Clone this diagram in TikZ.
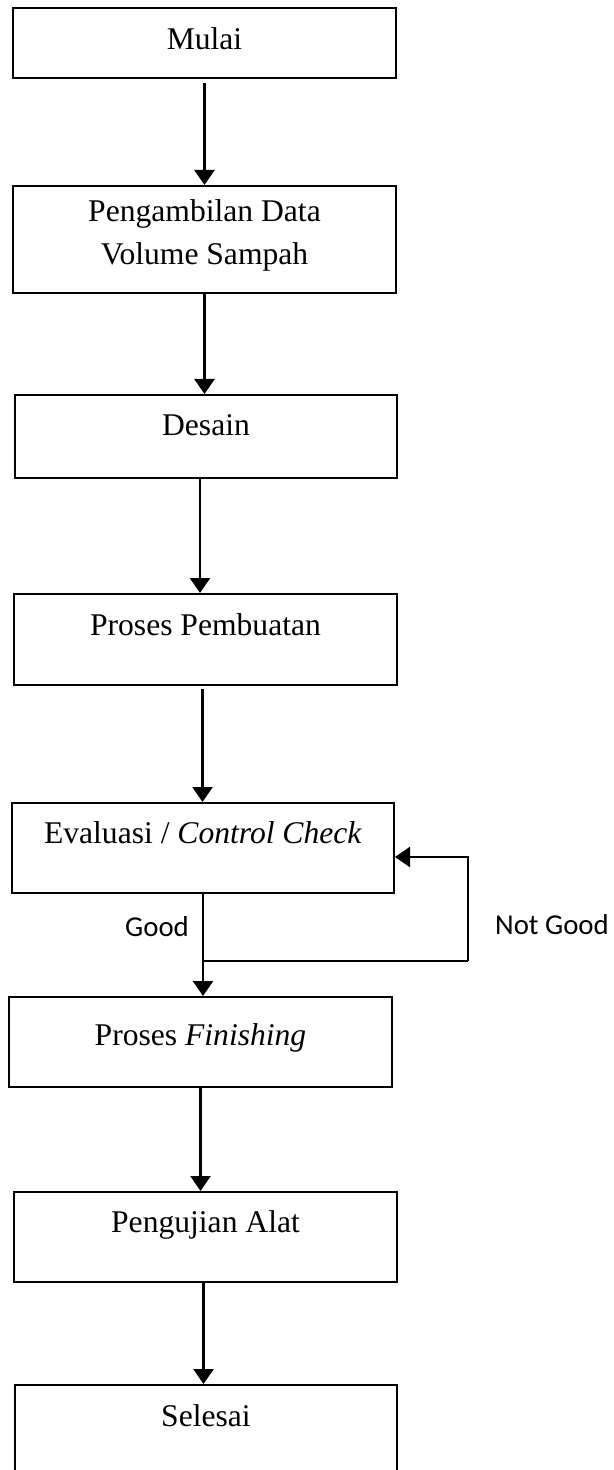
\documentclass[tikz,border=0pt]{standalone}
\usepackage{fontspec}
\setmainfont{Liberation Serif}
\newfontfamily\calibrifont{Carlito}
\usetikzlibrary{arrows.meta}
\begin{document}
\begin{tikzpicture}[x=0.5pt,y=-0.5pt,
  box/.style={draw=black,line width=1pt,inner sep=0pt,minimum width=191.5pt},
  txt/.style={font=\fontsize{15.8}{21.5}\selectfont,anchor=base,align=center,inner sep=0pt},
  lbl/.style={font=\calibrifont\fontsize{14.4}{17}\selectfont,anchor=base,inner sep=0pt},
  arr/.style={line width=1.25pt,-{Triangle[length=7.5pt,width=10pt]}},
  ln/.style={line width=1.25pt}]
\useasboundingbox (0,0) rectangle (614,1470);
% boxes
\node[box,minimum height=35pt] (b1) at (204.5,43) {};
\node[box,minimum height=53.5pt] (b2) at (204.5,239.5) {};
\node[box,minimum width=191pt,minimum height=41.5pt] (b3) at (206,436.5) {};
\node[box,minimum height=45.5pt] (b4) at (205.5,639.5) {};
\node[box,minimum width=191pt,minimum height=45pt] (b5) at (203,848) {};
\node[box,minimum height=45pt] (b6) at (200.5,1042) {};
\node[box,minimum height=45pt] (b7) at (205.5,1237) {};
\node[box,minimum width=191pt,minimum height=47.5pt] (b8) at (206,1432.5) {};
% texts
\node[txt] (t1) at (204.5,50) {Mulai};
\node[txt] (t2) at (204.5,265) {Pengambilan Data\\Volume Sampah};
\node[txt] (t3) at (206,436) {Desain};
\node[txt] (t4) at (205.5,635) {Proses Pembuatan};
\node[txt] (t5) at (203,843) {Evaluasi / \textit{Control Check}};
\node[txt] (t6) at (200.5,1045) {Proses \textit{Finishing}};
\node[txt] (t7) at (205.5,1232) {Pengujian Alat};
\node[txt] (t8) at (206,1426) {Selesai};
% labels
\node[lbl] (good) at (157,936) {Good};
\node[lbl] (notgood) at (552,934) {Not Good};
% connectors
\draw[arr] ([yshift=-2pt]b1.south) -- (b1.south |- b2.north);
\draw[arr] (b2.south) -- (b2.south |- b3.north);
\draw[arr] ([xshift=-3pt]b3.south) -- ([xshift=-3pt]b3.south |- b4.north);
\draw[arr] ([xshift=-1.5pt,yshift=-1.5pt]b4.south) -- ([xshift=-1.5pt]b4.south |- b5.north);
\draw[arr] (b5.south) -- (b5.south |- b6.north);
\draw[arr] (b6.south) -- (b6.south |- b7.north);
\draw[arr] ([xshift=-1pt]b7.south) -- ([xshift=-1pt]b7.south |- b8.north);
% not good loop
\coordinate (ng1) at (203,961);
\coordinate (ng2) at (468,961);
\draw[ln] (ng1) -- (ng2);
\draw[arr] (ng2) |- ([yshift=-4.5pt]b5.east);
\end{tikzpicture}
\end{document}
